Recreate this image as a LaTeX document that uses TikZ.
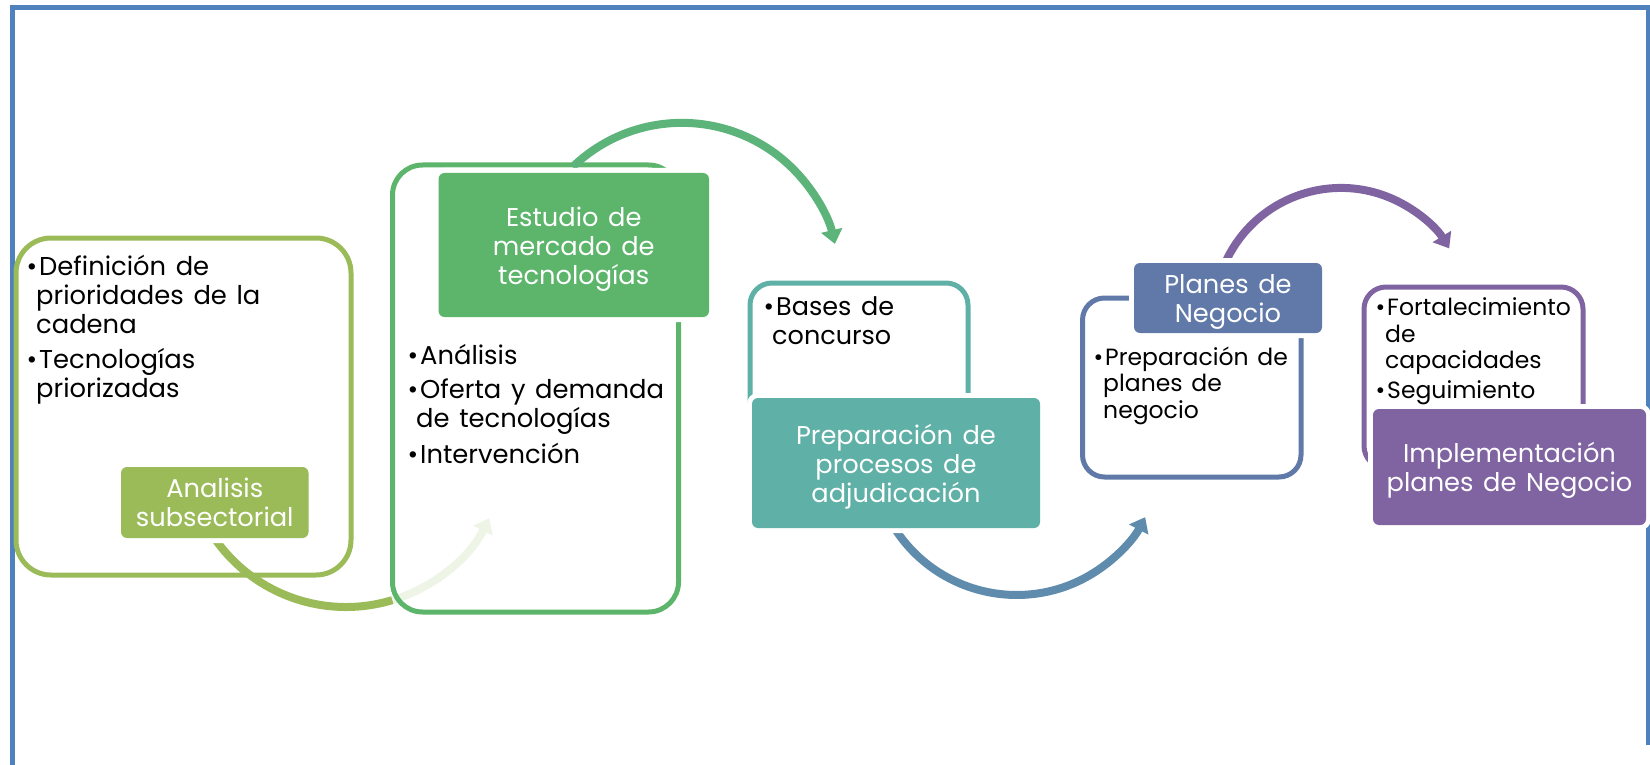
\documentclass[tikz,border=0pt]{standalone}
\usepackage{fontspec}
\setmainfont{Poppins}[WordSpace=1.4]
\usetikzlibrary{arrows.meta}
\definecolor{cFrame}{HTML}{4F81BD}
\definecolor{cOlive}{HTML}{9BBB59}
\definecolor{cPale}{HTML}{EEF4E6}
\definecolor{cGreen}{HTML}{5CB56B}
\definecolor{cGreenArr}{HTML}{5DB47B}
\definecolor{cTeal}{HTML}{5FB0A6}
\definecolor{cSteel}{HTML}{5F8BAC}
\definecolor{cSlate}{HTML}{6179A9}
\definecolor{cPurple}{HTML}{8064A2}
\newcommand{\szA}{\fontsize{25.8}{29}\selectfont}
\newcommand{\szB}{\fontsize{25.5}{29}\selectfont}
\newcommand{\szC}{\fontsize{23.5}{26.5}\selectfont}
\newcommand{\szT}{\fontsize{25.7}{29}\selectfont}
\newcommand{\bul}{\makebox[0pt][r]{\textbullet\hspace{2pt}}}
\tikzset{
  obox/.style={draw=#1, line width=5pt, inner sep=0pt},
  fbox/.style={fill=#1, preaction={draw=white, line width=10pt}, rounded corners=6pt,
               inner sep=0pt},
  tl/.style={inner sep=0pt, anchor=base west, text=black, font=#1},
  tt/.style={inner sep=0pt, anchor=base, text=white, font=\szT},
  arr/.style={line width=8pt, draw=#1, -{Triangle[width=21pt,length=14pt]}}
}
\begin{document}
\begin{tikzpicture}[x=1pt,y=-1pt]
\useasboundingbox (0,0) rectangle (1650,765);
% frame
\draw[cFrame, line width=5pt] (12.5,765) -- (12.5,7.5) -- (1650,7.5);
\draw[cFrame, line width=4pt] (1648,7.5) -- (1648,745);

% ---- stage 1
\node[obox=cOlive, minimum width=335, minimum height=337, rounded corners=35pt] (b1) at (183.5,406.5) {};
\coordinate (s1) at (207.4,527);
\draw[cOlive, line width=8pt] (s1) arc[start angle=150, end angle=73.1, radius=160] coordinate (m1);
\draw[arr=cPale] (m1) arc[start angle=73.1, end angle=26.4, radius=160];
\node[fbox=cOlive, minimum width=187.5, minimum height=71] (a1) at (214.75,502.5) {};
\node[tt] (a1a) at (214.75,497) {Analisis};
\node[tt] (a1b) at (214.75,526) {subsectorial};

% ---- stage 2
\node[obox=cGreen, minimum width=286, minimum height=447, rounded corners=30pt] (b2) at (535.5,388.5) {};
\coordinate (s2) at (572.6,167);
\draw[arr=cGreenArr] (s2) arc[start angle=-134, end angle=-13.3, radius=157.3];
\node[fbox=cGreen, minimum width=270.5, minimum height=144] (a2) at (573.75,245) {};
\node[tt] (a2a) at (573.75,226) {Estudio de};
\node[tt] (a2b) at (573.75,255) {mercado de};
\node[tt] (a2c) at (573.75,284) {tecnologías};

% ---- stage 3
\node[obox=cTeal, minimum width=218, minimum height=187, rounded corners=22pt] (b3) at (859,376.5) {};
\coordinate (s3) at (893.7,526.8);
\draw[arr=cSteel] (s3) arc[start angle=148, end angle=27.6, radius=145];
\node[fbox=cTeal, minimum width=288, minimum height=130] (a3) at (896,463) {};
\node[tt] (a3a) at (896,444) {Preparación de};
\node[tt] (a3b) at (896,473) {procesos de};
\node[tt] (a3c) at (896,502) {adjudicación};

% ---- stage 4
\node[obox=cSlate, minimum width=218.5, minimum height=179, rounded corners=22pt] (b4) at (1191.75,387.5) {};
\coordinate (s4) at (1225,263.3);
\draw[arr=cPurple] (s4) arc[start angle=-156, end angle=-31.6, radius=127];
\node[fbox=cSlate, minimum width=188, minimum height=70] (a4) at (1228,298) {};
\node[tt] (a4a) at (1228,293) {Planes de};
\node[tt] (a4b) at (1228,322) {Negocio};

% ---- stage 5
\node[obox=cPurple, minimum width=219, minimum height=181, rounded corners=22pt] (b5) at (1473.5,377.5) {};
\node[fbox=cPurple, minimum width=273, minimum height=116] (a5) at (1509.5,467) {};
\node[tt] (a5a) at (1509.5,462) {Implementación};
\node[tt] (a5b) at (1509.5,491) {planes de Negocio};

% ---- bullet texts, box 1
\node[tl=\szA] (t1a) at (39,275) {\bul Definición de};
\node[tl=\szA] (t1b) at (36,304) {prioridades de la};
\node[tl=\szA] (t1c) at (36,333) {cadena};
\node[tl=\szA] (t1d) at (39,368) {\bul Tecnologías};
\node[tl=\szA] (t1e) at (36,397) {priorizadas};
% box 2
\node[tl=\szA] (t2a) at (420,364) {\bul Análisis};
\node[tl=\szA] (t2b) at (420,398) {\bul Oferta y demanda};
\node[tl=\szA] (t2c) at (416,427) {de tecnologías};
\node[tl=\szA] (t2d) at (420,463) {\bul Intervención};
% box 3
\node[tl=\szB] (t3a) at (776,315) {\bul Bases de};
\node[tl=\szB] (t3b) at (772,344) {concurso};
% box 4
\node[tl=\szC] (t4a) at (1105,365) {\bul Preparación de};
\node[tl=\szC] (t4b) at (1103,391.5) {planes de};
\node[tl=\szC] (t4c) at (1103,418) {negocio};
% box 5
\node[tl=\szC] (t5a) at (1387,315) {\bul Fortalecimiento};
\node[tl=\szC] (t5b) at (1385,342) {de};
\node[tl=\szC] (t5c) at (1385,368) {capacidades};
\node[tl=\szC] (t5d) at (1387,398) {\bul Seguimiento};
\end{tikzpicture}
\end{document}
